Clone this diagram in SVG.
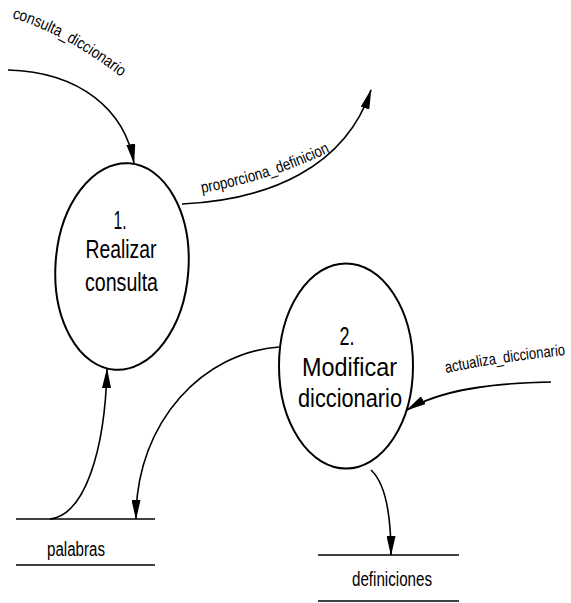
<svg xmlns="http://www.w3.org/2000/svg" width="571" height="603" viewBox="0 0 571 603">
  <style>
    .proc { fill: none; stroke: #000; stroke-width: 2; }
    .flow { fill: none; stroke: #000; stroke-width: 1.6; }
    .store { stroke: #000; stroke-width: 1.6; }
    text { font-family: "Liberation Sans", Arial, sans-serif; fill: #000; }
    .ptxt { text-anchor: middle; }
  </style>
  <defs>
    <marker id="arrow" viewBox="0 0 20 9" refX="19" refY="4.5" markerWidth="20" markerHeight="9" markerUnits="userSpaceOnUse" orient="auto">
      <path d="M0,0 L20,4.5 L0,9 z" fill="#000"/>
    </marker>
    <path id="lbl-consulta" d="M12,18 Q65,33 125,80"/>
    <path id="lbl-proporciona" d="M202,193 Q270,181 336,149"/>
    <path id="lbl-actualiza" d="M446,373 Q505,361 567,355"/>
  </defs>

  <!-- process 1 -->
  <g id="proc1">
    <ellipse class="proc" cx="122" cy="266.5" rx="66.5" ry="103.5" transform="rotate(4 122 266.5)"/>
    <text class="ptxt" x="120" y="229" font-size="25" textLength="13" lengthAdjust="spacingAndGlyphs">1.</text>
    <text class="ptxt" x="121" y="258" font-size="25" textLength="71" lengthAdjust="spacingAndGlyphs">Realizar</text>
    <text class="ptxt" x="121.5" y="291" font-size="25" textLength="73" lengthAdjust="spacingAndGlyphs">consulta</text>
  </g>

  <!-- process 2 -->
  <g id="proc2">
    <ellipse class="proc" cx="346" cy="366" rx="67" ry="102.5"/>
    <text class="ptxt" x="347" y="345" font-size="26" textLength="15" lengthAdjust="spacingAndGlyphs">2.</text>
    <text class="ptxt" x="349.5" y="376" font-size="26" textLength="95" lengthAdjust="spacingAndGlyphs">Modificar</text>
    <text class="ptxt" x="350" y="407" font-size="26" textLength="104" lengthAdjust="spacingAndGlyphs">diccionario</text>
  </g>

  <!-- data store: palabras -->
  <g id="store-palabras">
    <line class="store" x1="16" y1="519" x2="155" y2="519"/>
    <line class="store" x1="16" y1="565" x2="155" y2="565"/>
    <text x="47" y="556" font-size="20" textLength="58" lengthAdjust="spacingAndGlyphs">palabras</text>
  </g>

  <!-- data store: definiciones -->
  <g id="store-definiciones">
    <line class="store" x1="318" y1="555" x2="459" y2="555"/>
    <line class="store" x1="318" y1="601" x2="459" y2="601"/>
    <text x="352" y="586" font-size="20" textLength="80" lengthAdjust="spacingAndGlyphs">definiciones</text>
  </g>

  <!-- data flows -->
  <g id="flows">
    <path class="flow" d="M8,70 C80,72 125,110 134,163" marker-end="url(#arrow)"/>
    <path class="flow" d="M182,204 C268,200 345,168 371,90" marker-end="url(#arrow)"/>
    <path class="flow" d="M551,382 C490,383 440,390 407,410" marker-end="url(#arrow)"/>
    <path class="flow" d="M279,347 C205,352 136,420 136,519" marker-end="url(#arrow)"/>
    <path class="flow" d="M50,519 C85,515 105,450 107,369" marker-end="url(#arrow)"/>
    <path class="flow" d="M371,470 C384,482 391,510 391,555" marker-end="url(#arrow)"/>

    <text font-size="16"><textPath href="#lbl-consulta" textLength="125" lengthAdjust="spacingAndGlyphs">consulta_diccionario</textPath></text>
    <text font-size="16"><textPath href="#lbl-proporciona" textLength="135" lengthAdjust="spacingAndGlyphs">proporciona_definicion</textPath></text>
    <text font-size="16"><textPath href="#lbl-actualiza" textLength="121" lengthAdjust="spacingAndGlyphs">actualiza_diccionario</textPath></text>
  </g>
</svg>
